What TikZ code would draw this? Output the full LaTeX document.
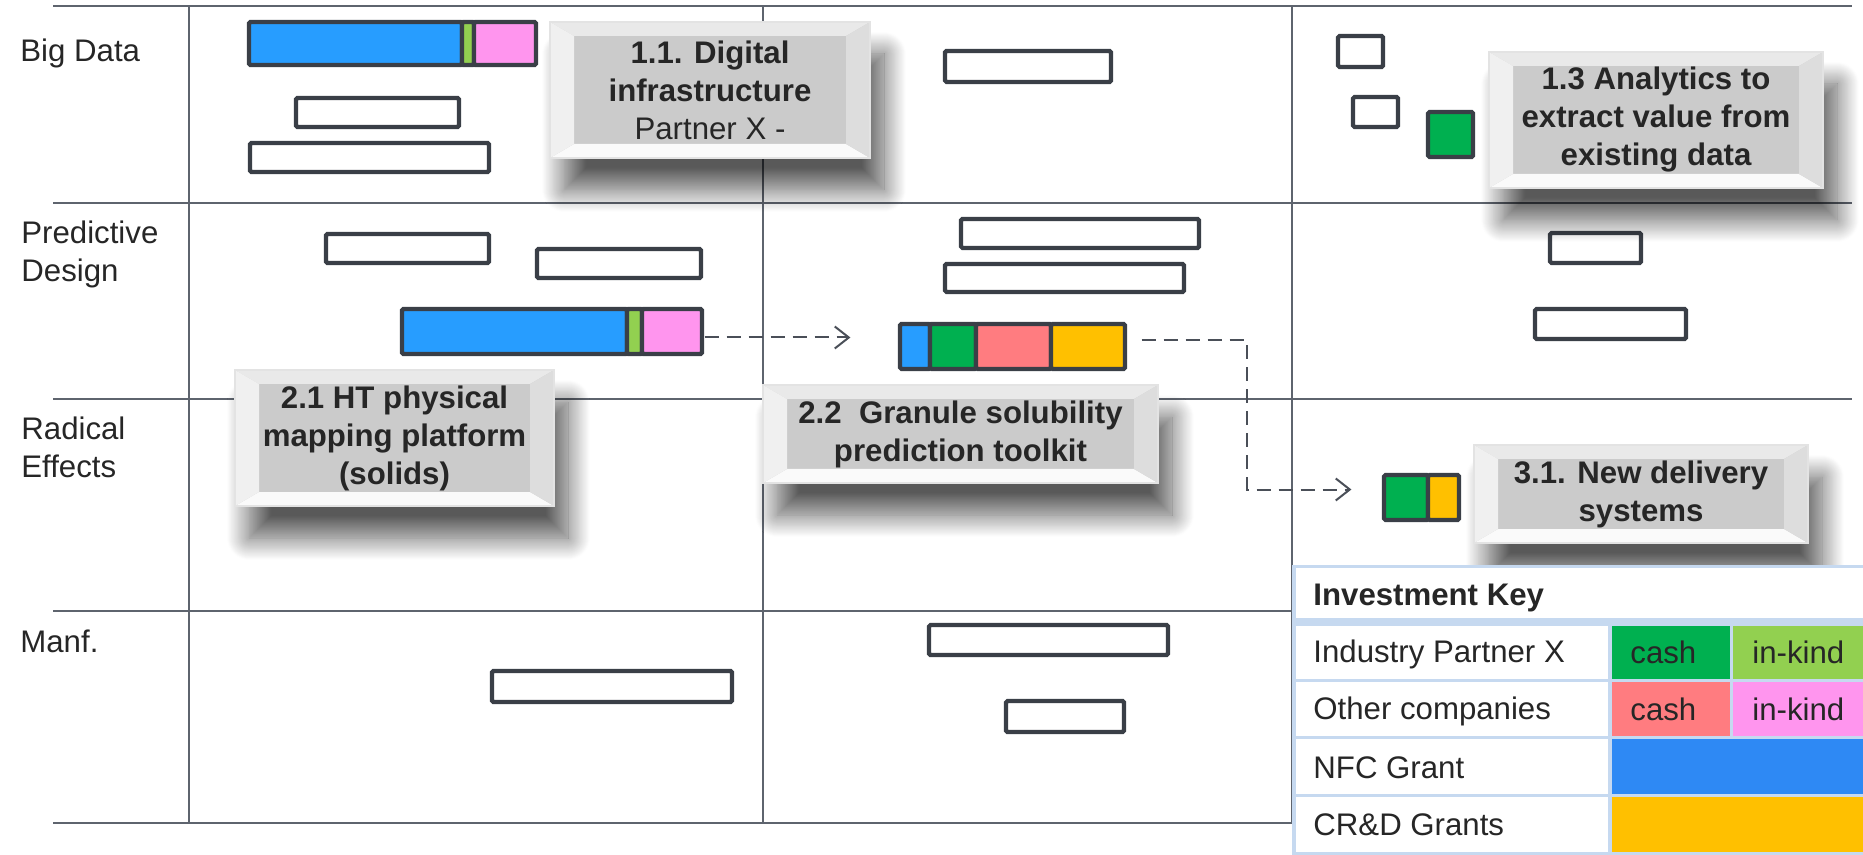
\documentclass[tikz,border=0pt]{standalone}
\usepackage{fontspec}
\setmainfont{Liberation Sans}
\usetikzlibrary{calc,fit,arrows.meta,shadows.blur}

\definecolor{gridgray}{HTML}{5E646E}
\definecolor{barline}{HTML}{3A3F47}
\definecolor{flowgray}{HTML}{4A4F58}
\definecolor{txtgray}{HTML}{262626}
\definecolor{barblue}{HTML}{279DFF}
\definecolor{nfcblue}{HTML}{2E89F4}
\definecolor{cashgreen}{HTML}{00B050}
\definecolor{kindgreen}{HTML}{92D050}
\definecolor{cashred}{HTML}{FF7C80}
\definecolor{kindpink}{HTML}{FF95EE}
\definecolor{crdyellow}{HTML}{FFC000}
\definecolor{keyline}{HTML}{C6D9F0}

\newcommand{\labelfont}{\fontsize{15.6}{19}\selectfont}

\tikzset{
  gridline/.style={draw=gridgray, line width=1.2pt},
  rowlabel/.style={font=\labelfont, text=txtgray, inner sep=0pt, align=left},
  barbox/.style={draw=barline, line width=2.2pt, rounded corners=0.8pt, fill=white},
  flow/.style={draw=flowgray, line width=1pt, dash pattern=on 7pt off 4pt,
    -{Straight Barb[length=7pt,width=11pt]}},
  bevel/.style={path picture={
    \path (path picture bounding box.north west) coordinate (bvnw)
          (path picture bounding box.south east) coordinate (bvse);
    \fill[gray!17] (bvnw) -- (bvnw -| bvse) -- ($(bvnw -| bvse)+(-24,14)$) -- ($(bvnw)+(24,14)$) -- cycle;
    \fill[gray!4] (bvse) -- (bvse -| bvnw) -- ($(bvse -| bvnw)+(24,-14)$) -- ($(bvse)+(-24,-14)$) -- cycle;
    \fill[gray!12] (bvnw) -- ($(bvnw)+(24,14)$) -- ($(bvse -| bvnw)+(24,-14)$) -- (bvse -| bvnw) -- cycle;
    \fill[gray!27] (bvnw -| bvse) -- ($(bvnw -| bvse)+(-24,14)$) -- ($(bvse)+(-24,-14)$) -- (bvse) -- cycle;
  }},
  callout/.style={draw=gray!22, line width=0.6pt, fill=gray!41, bevel,
    font=\labelfont\bfseries, text=txtgray, align=center, inner sep=0pt,
    blur shadow={shadow xshift=7pt, shadow yshift=-16pt, shadow blur radius=11pt,
      shadow blur steps=24, shadow opacity=65}},
  keytext/.style={font=\labelfont, text=txtgray, inner sep=0pt, anchor=base west},
}

\begin{document}
\begin{tikzpicture}[x=0.5pt, y=-0.5pt]
  \useasboundingbox (0,0) rectangle (1863,855);
  \clip (0,0) rectangle (1863,855);

  % grid
  \foreach \y in {6,203,399,611,823}
    \draw[gridline] (53,\y) -- (1852,\y);
  \foreach \x in {189,763,1292}
    \draw[gridline] (\x,6) -- (\x,823);

  % empty bars
  \foreach \xa/\ya/\xb/\yb in {296/98/459/127, 250/143/489/172, 945/51/1111/82,
      1338/36/1383/67, 1353/97/1398/127,
      326/234/489/263, 537/249/701/278, 961/219/1199/248, 945/264/1184/292,
      1550/233/1641/263, 1535/309/1686/339,
      492/671/732/702, 929/625/1168/655, 1006/701/1124/732}
    \draw[barbox] (\xa,\ya) rectangle (\xb,\yb);

  % coloured bars
  \draw[barbox, fill=barblue] (249,22) rectangle (462,65);
  \draw[barbox, fill=kindgreen] (462,22) rectangle (474,65);
  \draw[barbox, fill=kindpink] (474,22) rectangle (536,65);

  \draw[barbox, fill=cashgreen] (1428,112) rectangle (1473,157);

  \draw[barbox, fill=barblue] (402,309) rectangle (627,354);
  \draw[barbox, fill=kindgreen] (627,309) rectangle (642,354);
  \draw[barbox, fill=kindpink] (642,309) rectangle (702,354);
  \node[fit={(402,309) (702,354)}, inner sep=1.1pt] (ht) {};

  \draw[barbox, fill=barblue] (900,324) rectangle (930,369);
  \draw[barbox, fill=cashgreen] (930,324) rectangle (976,369);
  \draw[barbox, fill=cashred] (976,324) rectangle (1051,369);
  \draw[barbox, fill=crdyellow] (1051,324) rectangle (1125,369);
  \node[fit={(900,324) (1125,369)}, inner sep=1.1pt] (gran) {};

  \draw[barbox, fill=cashgreen] (1384,475) rectangle (1428,520);
  \draw[barbox, fill=crdyellow] (1428,475) rectangle (1459,520);
  \node[fit={(1384,475) (1459,520)}, inner sep=1.1pt] (deliv) {};

  % links
  \coordinate (bend) at (1247,420);
  \draw[flow, shorten >=23.5pt] ([yshift=-3pt]ht.east) -- ([yshift=-3pt]ht.east -| gran.west);
  \draw[flow, shorten <=7pt, shorten >=15pt] ([yshift=3pt]gran.east) -| (bend) |- ([yshift=4pt]deliv.west);

  % callouts
  \node[callout, minimum width=160pt, minimum height=68pt] (digilab) at (710,90)
    {1.1. Digital\\infrastructure\\{\mdseries Partner X -}};
  \node[callout, minimum width=167pt, minimum height=68pt] (anlylab) at (1656,120)
    {1.3 Analytics to\\extract value from\\existing data};
  \node[callout, minimum width=159.5pt, minimum height=68pt] (htlab) at (394.5,438)
    {2.1 HT physical\\mapping platform\\(solids)};
  \node[callout, minimum width=197.5pt, minimum height=49pt] (granlab) at (960.5,434)
    {2.2\ \ Granule solubility\\prediction toolkit};
  \node[callout, minimum width=167pt, minimum height=49pt] (delivlab) at (1641,494)
    {3.1. New delivery\\systems};

  % investment key
  \fill[keyline] (1292,565) rectangle (1863,855);
  \fill[white] (1296,568) rectangle (1863,618);
  \foreach \ya/\yb in {626/679, 682/736, 739/794, 797/852}
    \fill[white] (1296,\ya) rectangle (1608,\yb);
  \fill[cashgreen] (1612,626) rectangle (1730,679);
  \fill[kindgreen] (1733,626) rectangle (1863,679);
  \fill[cashred] (1612,682) rectangle (1730,736);
  \fill[kindpink] (1733,682) rectangle (1863,736);
  \fill[nfcblue] (1612,739) rectangle (1863,794);
  \fill[crdyellow] (1612,797) rectangle (1863,852);

  \node[keytext, font=\labelfont\bfseries] (keyhead) at (1313,605) {Investment Key};
  \node[keytext] (keypx) at (1313,662) {Industry Partner X};
  \node[keytext] (keyoc) at (1313,719) {Other companies};
  \node[keytext] (keynfc) at (1313,778) {NFC Grant};
  \node[keytext] (keycrd) at (1313,835) {CR\&D Grants};
  \node[keytext] (pxcash) at (1630,663) {cash};
  \node[keytext] (pxkind) at (1752,663) {in-kind};
  \node[keytext] (occash) at (1630,720) {cash};
  \node[keytext] (ockind) at (1752,720) {in-kind};

  % row labels (base = last line)
  \node[rowlabel, anchor=base west] (bigdata) at (20,62) {Big Data};
  \node[rowlabel, anchor=base west] (preddes) at (21,282) {Predictive\\Design};
  \node[rowlabel, anchor=base west] (radeff) at (21,478) {Radical\\Effects};
  \node[rowlabel, anchor=base west] (manf) at (20,652) {Manf.};
\end{tikzpicture}
\end{document}
